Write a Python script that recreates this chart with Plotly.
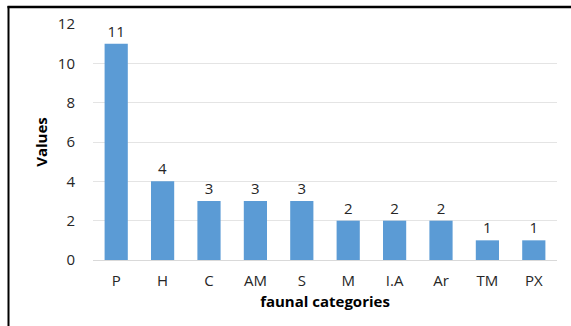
import plotly.graph_objects as go

categories = ["P", "H", "C", "AM", "S", "M", "I.A", "Ar", "TM", "PX"]
values = [11, 4, 3, 3, 3, 2, 2, 2, 1, 1]
y_ticks = [0, 2, 4, 6, 8, 10, 12]

W, H = 571, 326
L, R, T, B = 93, 14, 24, 66
pw, ph = W - L - R, H - T - B

def px_x(p):
    return (p - L) / pw

def px_y(p):
    return (H - B - p) / ph

font_family = "Open Sans, Liberation Sans, sans-serif"

fig = go.Figure(go.Bar(
    x=categories, y=values,
    marker=dict(color="#5b9bd5", line=dict(width=0)),
    text=[str(v) for v in values], textposition="outside",
    textfont=dict(size=15, color="#262626", family=font_family),
    cliponaxis=False, width=0.5,
))

fig.update_layout(
    width=W, height=H,
    margin=dict(l=L, r=R, t=T, b=B),
    paper_bgcolor="white", plot_bgcolor="white",
    showlegend=False,
    font=dict(family=font_family, size=15, color="#262626"),
    xaxis=dict(
        showgrid=False, showline=False, ticks="", ticklabelstandoff=10,
        tickfont=dict(size=15, color="#262626"),
        title=dict(text="<b>faunal categories</b>", font=dict(size=15, color="#000000"), standoff=7),
    ),
    yaxis=dict(
        range=[0, 12], tickvals=y_ticks, showgrid=True, gridcolor="#e4e4e4", gridwidth=1,
        zeroline=True, zerolinecolor="#d9d9d9", zerolinewidth=1,
        showline=False, ticks="", ticklabelstandoff=17,
        tickfont=dict(size=15, color="#262626"),
        title=dict(text="<b>Values</b>", font=dict(size=15, color="#000000"), standoff=6),
    ),
    shapes=[
        dict(type="line", xref="paper", yref="paper",
             x0=px_x(8.5), x1=px_x(8.5), y0=px_y(6), y1=px_y(330),
             line=dict(color="#000000", width=2)),
        dict(type="line", xref="paper", yref="paper",
             x0=px_x(7.5), x1=px_x(575), y0=px_y(7), y1=px_y(7),
             line=dict(color="#000000", width=2.5)),
    ],
)

fig.write_html("out.html")
